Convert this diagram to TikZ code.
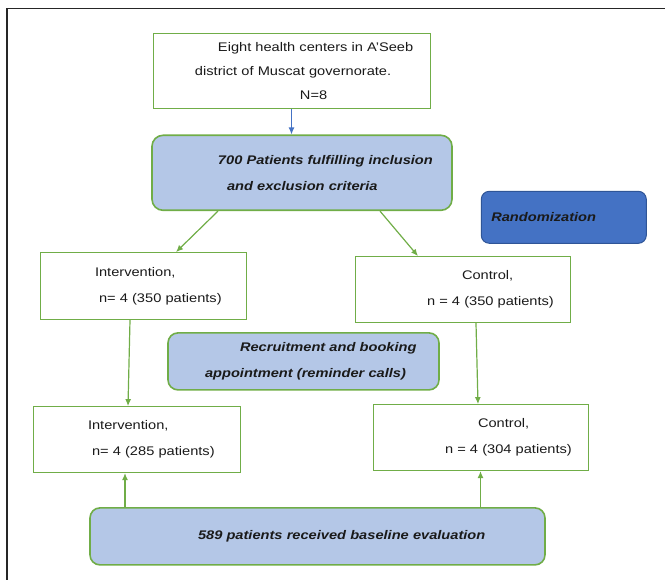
\documentclass[tikz,border=0pt]{standalone}
\usepackage{fontspec}
\setmainfont{Liberation Sans}[FakeStretch=1.17]
\usepackage{tikz}
\usetikzlibrary{positioning}
\usetikzlibrary{calc,arrows.meta}
\definecolor{boxgreen}{HTML}{70AD47}
\definecolor{paleblue}{HTML}{B4C7E7}
\definecolor{randblue}{HTML}{4472C4}
\definecolor{randedge}{HTML}{2F5597}
\definecolor{txt}{HTML}{1A1A1A}
\tikzstyle{box} = [rectangle, draw=boxgreen, line width=1pt, fill=white,
                inner xsep=0pt, align=left, text=txt, font=\fontsize{12.5}{26}\selectfont]
\tikzstyle{roundbox} = [box, rounded corners=11pt, fill=paleblue, line width=1.6pt,
                font=\fontsize{12.5}{26}\selectfont\bfseries\itshape]
\tikzstyle{randbox} = [roundbox, rounded corners=8pt, fill=randblue, draw=randedge, line width=1pt]
\tikzstyle{link} = [draw, boxgreen, line width=1.2pt, -{Latex[length=7pt,width=6pt]}]
\tikzstyle{bluelink} = [link, randblue]

\begin{document}
\begin{tikzpicture}
            \useasboundingbox (0pt,0pt) rectangle (665pt,-580pt);
            \draw[line width=1.8pt, black!85] (7pt,-580pt) -- (7pt,-8.5pt) -- (665pt,-8.5pt);
            \node[box, text width=277pt, minimum height=75pt, font=\fontsize{12.5}{24}\selectfont](centers) at (291.5pt,-71.5pt)
                {\hspace*{65pt}Eight health centers in A'Seeb\\ \hspace*{42pt}district of Muscat governorate.\\ \hspace*{147pt}N=8};
            \node[roundbox, text width=300pt, minimum height=75pt, below=25pt of centers, xshift=10.5pt](crit)
                {\hspace*{66pt}700 Patients fulfilling inclusion\\ \hspace*{75pt}and exclusion criteria};
            \node[randbox, text width=165pt, minimum height=52pt, right=28pt of crit, yshift=-44.5pt](rand)
                {\hspace*{10pt}Randomization};
            \node[box, text width=206pt, minimum height=67pt, below=41pt of crit, xshift=-159pt](int1)
                {\hspace*{55pt}Intervention,\\ \hspace*{59pt}n= 4 (350 patients)};
            \node[box, text width=215pt, minimum height=66pt, below=45pt of crit, xshift=160.5pt](ctl1)
                {\hspace*{107pt}Control,\\ \hspace*{72pt}n = 4 (350 patients)};
            \node[roundbox, text width=271pt, minimum height=57pt, rounded corners=10pt, below=12pt of int1, xshift=160.5pt](recruit)
                {\hspace*{72pt}Recruitment and booking\\ \hspace*{37pt}appointment (reminder calls)};
            \node[box, text width=207pt, minimum height=66pt, below=86pt of int1, xshift=-6.5pt](int2)
                {\hspace*{55pt}Intervention,\\ \hspace*{59pt}n= 4 (285 patients)};
            \node[box, text width=215pt, minimum height=66pt, below=81pt of ctl1, xshift=18pt](ctl2)
                {\hspace*{105pt}Control,\\ \hspace*{72pt}n = 4 (304 patients)};
            \node[roundbox, text width=455pt, minimum height=57pt, rounded corners=10pt, below=34pt of int2, xshift=181pt](base)
                {\hspace*{108pt}589 patients received baseline evaluation};
            \coordinate (i2in) at ($(int2.south)+(-11.5pt,0)$);
            \path[bluelink] (centers.south) -- (centers.south |- crit.north);
            \path[link] ($(crit.south)+(-84pt,0)$) -- ($(int1.north)+(33pt,0)$);
            \path[link] ($(crit.south)+(78pt,0)$) -- ($(ctl1.north)+(-44.5pt,0)$);
            \path[link] ($(int1.south)+(-13pt,0)$) -- ($(int2.north)+(-8.5pt,0)$);
            \path[link] ($(ctl1.south)+(13.5pt,0)$) -- ($(ctl2.north)+(-2.5pt,0)$);
            \path[link] (i2in |- base.north) -- (i2in);
            \path[link] (ctl2.south |- base.north) -- (ctl2.south);
        \end{tikzpicture}
\end{document}
